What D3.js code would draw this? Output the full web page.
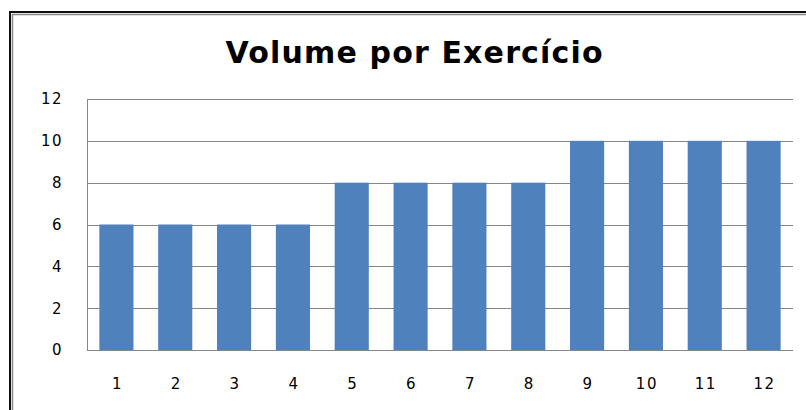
<!DOCTYPE html>
<html>
<head>
<meta charset="utf-8">
<script src="https://cdn.jsdelivr.net/npm/d3@7"></script>
<style>
body { margin: 0; background: #fff; }
svg { display: block; font-family: "DejaVu Sans", sans-serif; }
</style>
</head>
<body>
<svg width="806" height="410"></svg>
<script>
var exercicios = ['1', '2', '3', '4', '5', '6', '7', '8', '9', '10', '11', '12'];
var volume = [6, 6, 6, 6, 8, 8, 8, 8, 10, 10, 10, 10];
var yTicks = [0, 2, 4, 6, 8, 10, 12];
var titulo = 'Volume por Exercício';

function main() {
	var svg = d3.select('svg');

	// moldura (only top and left edges are visible in the picture)
	svg.append('path')
		.attr('d', 'M10,410 V12 H806')
		.attr('fill', 'none')
		.attr('stroke', '#111')
		.attr('stroke-width', 2);
	svg.append('path')
		.attr('d', 'M12.5,410 V14.5 H806')
		.attr('fill', 'none')
		.attr('stroke', '#888')
		.attr('stroke-width', 1.5);

	var left = 87, right = 793, top = 99, bottom = 350;

	var x = d3.scaleBand()
		.domain(exercicios)
		.range([left, right])
		.paddingInner(0.42)
		.paddingOuter(0.21);
	var y = d3.scaleLinear()
		.domain([0, 12])
		.range([bottom, top]);

	// grid lines
	svg.append('g')
		.selectAll('line')
		.data(yTicks)
		.enter().append('line')
		.attr('x1', left)
		.attr('x2', right)
		.attr('y1', function(d){ return Math.round(y(d)) + 0.5; })
		.attr('y2', function(d){ return Math.round(y(d)) + 0.5; })
		.attr('stroke', '#868686')
		.attr('stroke-width', 1);

	svg.append('line')
		.attr('x1', left + 0.5).attr('x2', left + 0.5)
		.attr('y1', top).attr('y2', bottom)
		.attr('stroke', '#868686');

	// bars
	svg.append('g')
		.selectAll('rect')
		.data(volume)
		.enter().append('rect')
		.attr('x', function(d, i){ return x(exercicios[i]); })
		.attr('y', function(d){ return y(d); })
		.attr('width', x.bandwidth())
		.attr('height', function(d){ return y(0) - y(d); })
		.attr('fill', '#4F81BD');

	// y labels
	svg.append('g')
		.selectAll('text')
		.data(yTicks)
		.enter().append('text')
		.attr('x', 63)
		.attr('y', function(d){ return y(d); })
		.attr('dy', '0.36em')
		.attr('text-anchor', 'end')
		.attr('font-size', 15)
		.attr('letter-spacing', 1.5)
		.attr('fill', '#000')
		.text(function(d){ return d; });

	// x labels
	svg.append('g')
		.selectAll('text')
		.data(exercicios)
		.enter().append('text')
		.attr('x', function(d){ return x(d) + x.bandwidth() / 2 + 1; })
		.attr('y', 384)
		.attr('dy', '0.36em')
		.attr('text-anchor', 'middle')
		.attr('font-size', 15)
		.attr('letter-spacing', 1.5)
		.attr('fill', '#000')
		.text(function(d){ return d; });

	svg.append('text')
		.attr('x', 414)
		.attr('y', 63)
		.attr('text-anchor', 'middle')
		.attr('font-size', 30)
		.attr('font-weight', 'bold')
		.attr('textLength', 377)
		.attr('lengthAdjust', 'spacing')
		.attr('fill', '#000')
		.text(titulo);
}
main();
</script>
</body>
</html>
